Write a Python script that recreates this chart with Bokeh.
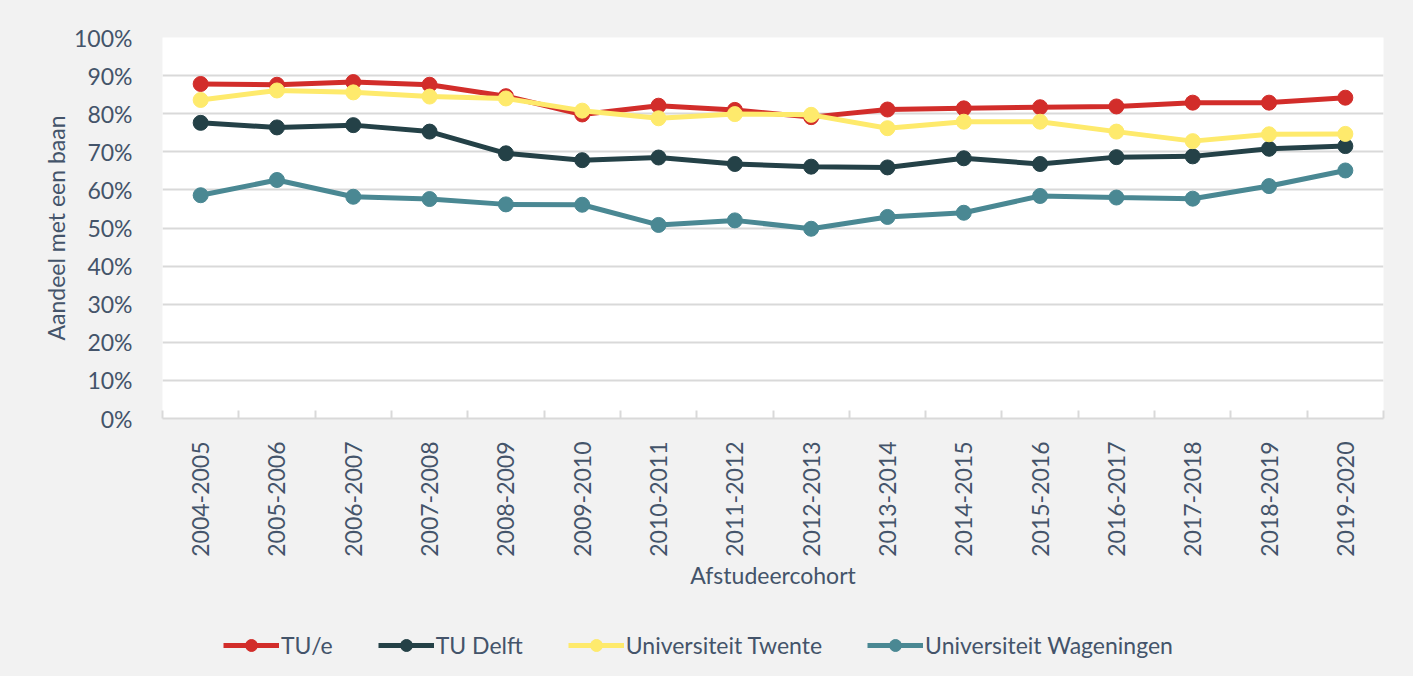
import math
from bokeh.plotting import figure
from bokeh.layouts import column
from bokeh.models import (Range1d, LinearAxis, FixedTicker, CustomJSTickFormatter,
                          PrintfTickFormatter, Legend, LegendItem)
from bokeh.embed import file_html
from bokeh.resources import INLINE

categories = ["2004-2005", "2005-2006", "2006-2007", "2007-2008", "2008-2009",
              "2009-2010", "2010-2011", "2011-2012", "2012-2013", "2013-2014",
              "2014-2015", "2015-2016", "2016-2017", "2017-2018", "2018-2019",
              "2019-2020"]

series_names = ["TU/e", "TU Delft", "Universiteit Twente", "Universiteit Wageningen"]
tue = [87.8, 87.6, 88.3, 87.6, 84.6, 79.8, 82.1, 81.0, 79.1, 81.1, 81.4, 81.7, 81.9, 82.9, 82.9, 84.2]
tu_delft = [77.6, 76.4, 77.0, 75.3, 69.6, 67.8, 68.5, 66.8, 66.1, 65.9, 68.3, 66.8, 68.6, 68.8, 70.8, 71.5]
twente = [83.6, 86.1, 85.6, 84.5, 84.0, 80.8, 78.8, 79.9, 79.7, 76.2, 77.9, 77.9, 75.3, 72.8, 74.6, 74.7]
wageningen = [58.6, 62.6, 58.2, 57.6, 56.2, 56.1, 50.8, 52.0, 49.8, 52.9, 54.0, 58.4, 58.0, 57.7, 61.0, 65.1]
y_ticks = [0, 10, 20, 30, 40, 50, 60, 70, 80, 90, 100]

colors = ["#D22D2A", "#244147", "#FEEA6C", "#4A8893"]
TEXT = "#44546A"
BG = "#F2F2F2"
FONT = "Lato"

# category centres on a numeric index scale (category i occupies [i, i+1])
n = len(categories)
xpos = [i + 0.5 for i in range(n)]
all_series = [tue, tu_delft, twente, wageningen]

p = figure(width=1413, height=620, x_range=Range1d(0, n), y_range=Range1d(0, 100),
           x_axis_type=None, output_backend="svg", toolbar_location=None,
           min_border_left=162, min_border_right=30, min_border_top=37,
           min_border_bottom=202)
p.background_fill_color = "white"
p.border_fill_color = BG
p.outline_line_color = None

# y axis
p.yaxis.ticker = FixedTicker(ticks=y_ticks)
p.yaxis.formatter = PrintfTickFormatter(format="%d%%")
p.yaxis.axis_line_color = None
p.yaxis.major_tick_line_color = None
p.yaxis.minor_tick_line_color = None
p.yaxis.major_label_standoff = 24
p.yaxis.major_label_text_font = FONT
p.yaxis.major_label_text_font_size = "23px"
p.yaxis.major_label_text_color = TEXT
p.yaxis.axis_label = "Aandeel met een baan"
p.yaxis.axis_label_text_font = FONT
p.yaxis.axis_label_text_font_size = "23px"
p.yaxis.axis_label_text_font_style = "normal"
p.yaxis.axis_label_text_color = TEXT
p.yaxis.axis_label_standoff = 1

p.ygrid.ticker = FixedTicker(ticks=y_ticks)
p.ygrid.grid_line_color = "#D9D9D9"
p.ygrid.grid_line_width = 2

# x axis: labels centred on categories, tick marks at boundaries
xaxis = LinearAxis(
    ticker=FixedTicker(ticks=xpos, minor_ticks=list(range(n + 1))),
    formatter=CustomJSTickFormatter(args=dict(cats=categories),
                                    code="return cats[Math.floor(tick)];"),
)
xaxis.major_label_orientation = math.pi / 2
xaxis.axis_line_color = "#D9D9D9"
xaxis.axis_line_width = 2
xaxis.major_tick_line_color = None
xaxis.minor_tick_line_color = "#D9D9D9"
xaxis.minor_tick_line_width = 2
xaxis.minor_tick_in = 8
xaxis.minor_tick_out = 0
xaxis.major_label_standoff = 17
xaxis.major_label_text_font = FONT
xaxis.major_label_text_font_size = "23px"
xaxis.major_label_text_color = TEXT
xaxis.axis_label = "Afstudeercohort"
xaxis.axis_label_text_font = FONT
xaxis.axis_label_text_font_size = "23px"
xaxis.axis_label_text_font_style = "normal"
xaxis.axis_label_text_color = TEXT
xaxis.axis_label_standoff = 1
p.add_layout(xaxis, "below")

for vals, col in zip(all_series, colors):
    p.line(xpos, vals, line_color=col, line_width=5)
    p.scatter(xpos, vals, size=15, fill_color=col, line_color=col)

# legend strip below the chart (same grey background); its renderers hold the
# same series but the strip's y-range keeps them out of view, only the
# legend swatches are shown
pl = figure(width=1413, height=56, x_range=Range1d(0, n), y_range=Range1d(1000, 1001),
            x_axis_type=None, y_axis_type=None, output_backend="svg",
            toolbar_location=None, min_border_left=0, min_border_right=0,
            min_border_top=0, min_border_bottom=0)
pl.background_fill_alpha = 0
pl.border_fill_color = BG
pl.outline_line_color = None

items = []
for name, vals, col in zip(series_names, all_series, colors):
    l = pl.line(xpos, vals, line_color=col, line_width=5)
    s = pl.scatter(xpos, vals, size=15, fill_color=col, line_color=col)
    items.append(LegendItem(label=name, renderers=[l, s]))

legend = Legend(items=items, orientation="horizontal", location=(61, 16),
                border_line_color=None, background_fill_alpha=0,
                padding=0, margin=0, spacing=45, label_standoff=2,
                glyph_width=56, glyph_height=30, label_text_font=FONT,
                label_text_font_size="23px", label_text_color=TEXT)
pl.add_layout(legend)

layout = column(p, pl, spacing=0, styles={"background-color": BG})
open("out.html", "w").write(file_html(layout, INLINE))
